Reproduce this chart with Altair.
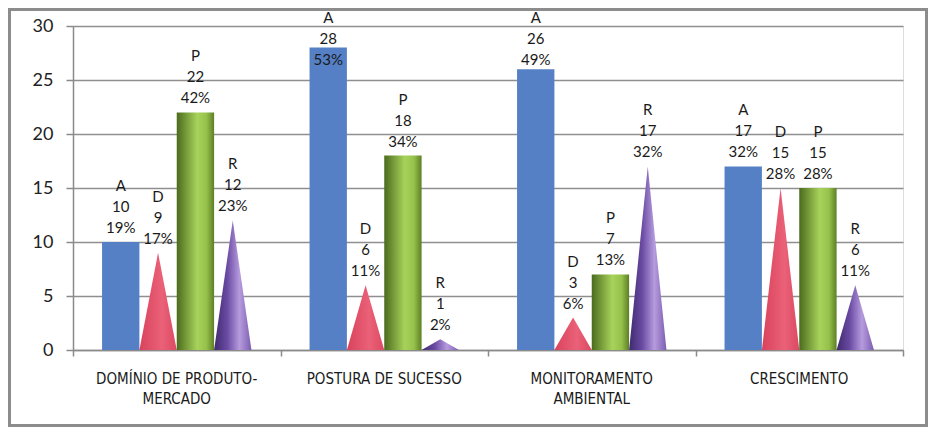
import altair as alt
import pandas as pd

categories = ["DOMÍNIO DE PRODUTO-\nMERCADO", "POSTURA DE SUCESSO", "MONITORAMENTO\nAMBIENTAL", "CRESCIMENTO"]
series = ["A", "D", "P", "R"]
values = {
    "A": [10, 28, 26, 17],
    "D": [9, 6, 3, 15],
    "P": [22, 18, 7, 15],
    "R": [12, 1, 17, 6],
}
percents = {
    "A": ["19%", "53%", "49%", "32%"],
    "D": ["17%", "11%", "6%", "28%"],
    "P": ["42%", "34%", "13%", "28%"],
    "R": ["23%", "2%", "32%", "11%"],
}
y_ticks = [0, 5, 10, 15, 20, 25, 30]

W, H = 830, 324
SLOT = 0.18
START = 0.5 - 2 * SLOT

rows, tri = [], []
for si, s in enumerate(series):
    for ci, cat in enumerate(categories):
        v = values[s][ci]
        x0 = ci + START + si * SLOT
        x1 = x0 + SLOT
        xc = (x0 + x1) / 2
        rows.append(dict(cat=ci, series=s, value=v, x0=x0, x1=x1, xc=xc,
                         label=f"{s}\n{v}\n{percents[s][ci]}"))
        key = f"{s}{ci}"
        for xx, yy in ((x0, 0), (xc, v), (x1, 0)):
            tri.append(dict(key=key, series=s, x=xx, y=yy))

df = pd.DataFrame(rows)
tdf = pd.DataFrame(tri)
cdf = pd.DataFrame({"cat": categories, "xc": [i + 0.5 for i in range(len(categories))]})

xscale = alt.Scale(domain=[0, 4], nice=False, zero=False)
yscale = alt.Scale(domain=[0, 30], nice=False)

grad = lambda stops: alt.Gradient(
    gradient="linear", x1=0, x2=1, y1=0, y2=0,
    stops=[alt.GradientStop(offset=o, color=c) for o, c in stops])

base = alt.Chart(df)

xaxis = alt.Axis(values=[0, 1, 2, 3, 4], labels=False, ticks=True, tickSize=6,
                 grid=False, domainColor="#8a8a8a", tickColor="#8a8a8a",
                 domainWidth=1.5, tickWidth=1.5, title=None)
yaxis = alt.Axis(values=y_ticks, grid=True, gridColor="#8f8f8f", gridWidth=1.5,
                 tickSize=7, tickColor="#8a8a8a", tickWidth=1.5, domainColor="#8a8a8a",
                 domainWidth=1.5, labelFont="Lato", labelFontSize=18, labelColor="#222222",
                 labelPadding=13, title=None)

bars_A = base.transform_filter("datum.series == 'A'").mark_rect(color="#5580C6").encode(
    x=alt.X("x0:Q", scale=xscale, axis=xaxis),
    x2="x1:Q",
    y=alt.Y("value:Q", scale=yscale, axis=yaxis),
    y2=alt.datum(0),
)

bars_P = base.transform_filter("datum.series == 'P'").mark_rect(
    color=grad([(0, "#4b6b1d"), (0.55, "#a8d35b"), (0.8, "#95c04a"), (1, "#5d7f25")])
).encode(x=alt.X("x0:Q", scale=xscale), x2="x1:Q",
         y=alt.Y("value:Q", scale=yscale), y2=alt.datum(0))

tri_D = alt.Chart(tdf).transform_filter("datum.series == 'D'").mark_area(
    color=grad([(0, "#d9435c"), (0.6, "#ea6178"), (1, "#dc4a62")])
).encode(
    x=alt.X("x:Q", scale=xscale),
    y=alt.Y("y:Q", scale=yscale, stack=None),
    detail="key:N",
)

tri_R = alt.Chart(tdf).transform_filter("datum.series == 'R'").mark_area(
    color=grad([(0, "#3f2a6e"), (0.35, "#6a4aa3"), (0.68, "#b69bde"), (1, "#7b5db0")])
).encode(
    x=alt.X("x:Q", scale=xscale),
    y=alt.Y("y:Q", scale=yscale, stack=None),
    detail="key:N",
)

labels = base.transform_calculate(ly="min(datum.value, 25.6)").mark_text(
    baseline="bottom", align="center", dy=-48, lineBreak="\n", lineHeight=21,
    font="Lato", fontSize=15, color="#1a1a1a"
).encode(x=alt.X("xc:Q", scale=xscale), y=alt.Y("ly:Q", scale=yscale), text="label:N")

cat_labels = alt.Chart(cdf).mark_text(
    baseline="top", align="center", lineBreak="\n", lineHeight=20,
    font="Liberation Sans Narrow, DejaVu Sans Condensed, sans-serif", fontSize=15, color="#1a1a1a"
).encode(x=alt.X("xc:Q", scale=xscale), y=alt.value(H + 22), text="cat:N")

frame = alt.Chart(cdf).mark_rect(fill=None, stroke="#8c8c8c", strokeWidth=3).encode(
    x=alt.value(-63.5), x2=alt.value(W + 23.5), y=alt.value(-16.5), y2=alt.value(H + 75.5)
)

chart = alt.layer(bars_A, tri_D, bars_P, tri_R, labels, cat_labels, frame).properties(
    width=W, height=H, padding={"left": 65, "top": 18, "right": 25, "bottom": 77},
    autosize=alt.AutoSizeParams(type="none"),
).configure_view(stroke=None).configure(background="white")

chart.save("out.html", embed_options={"renderer": "svg", "actions": False})
